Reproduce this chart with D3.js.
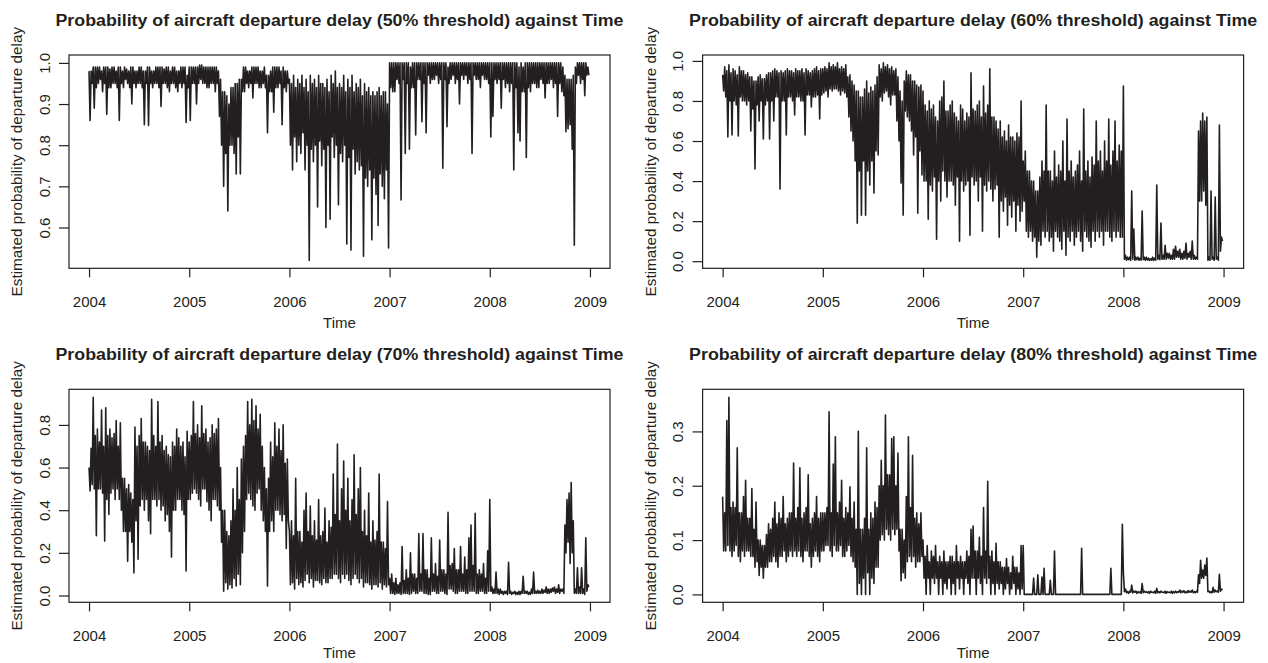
<!DOCTYPE html>
<html>
<head>
<meta charset="utf-8">
<script src="https://cdn.jsdelivr.net/npm/d3@7"></script>
<style>
  body { margin: 0; background: #fff; }
  svg { display: block; font-family: 'Liberation Sans', Arial, Helvetica, sans-serif; }
</style>
</head>
<body>
<div id="chart-container"></div>
<script>
const d3 = window.d3;

const chartWidth = 1268;
const chartHeight = 663;

// Time series: starts 2004, 96 readings per year (one row per quarter)
const startYear = 2004;
const perYear = 96;
const yearTicks = [2004, 2005, 2006, 2007, 2008, 2009];
const thresholds = ['50%', '60%', '70%', '80%'];

const prob50 = [
  .98,.86,.98,.95,.99,.89,.99,.94,.99,.95,.99,.96,.98,.93,.99,.95,.99,.875,.99,.94,.985,.94,.99,.95,
  .99,.95,.98,.94,.99,.86,.99,.95,.98,.94,.99,.96,.985,.95,.98,.94,.99,.90,.99,.95,.98,.94,.98,.95,
  .99,.95,.99,.94,.98,.85,.98,.95,.99,.848,.99,.95,.98,.94,.98,.95,.99,.95,.99,.94,.99,.894,.99,.95,
  .985,.95,.99,.94,.99,.93,.98,.95,.99,.95,.99,.94,.98,.93,.98,.95,.99,.94,.99,.95,.99,.855,.97,.94,
  .99,.86,.99,.95,.99,.95,.99,.90,.99,.95,.995,.96,.995,.95,.99,.95,.99,.94,.99,.94,.99,.95,.99,.95,
  .99,.93,.99,.95,.98,.87,.96,.80,.93,.70,.93,.78,.92,.64,.90,.80,.94,.80,.94,.78,.95,.73,.95,.82,
  .96,.73,.96,.93,.99,.93,.99,.95,.98,.94,.98,.95,.99,.915,.99,.95,.99,.95,.99,.94,.98,.94,.98,.95,
  .99,.94,.97,.83,.97,.93,.98,.93,.99,.88,.99,.94,.99,.94,.99,.95,.98,.85,.99,.94,.98,.93,.98,.95,
  .96,.80,.95,.74,.97,.82,.94,.76,.96,.80,.95,.78,.97,.83,.94,.74,.96,.80,.93,.52,.97,.79,.95,.76,
  .96,.80,.94,.65,.97,.81,.95,.75,.95,.79,.94,.60,.96,.80,.93,.62,.97,.82,.95,.77,.98,.80,.94,.655,
  .95,.78,.94,.76,.97,.80,.93,.56,.96,.77,.94,.545,.97,.79,.93,.73,.95,.76,.94,.74,.96,.75,.92,.53,
  .95,.72,.93,.70,.94,.74,.92,.57,.93,.72,.92,.68,.93,.605,.94,.73,.92,.70,.93,.67,.93,.74,.90,.55,
  1,.94,1,.93,1,.93,1,.96,1,.95,1,.667,1,.96,1,.78,1,.95,1,.79,.99,.94,1,.94,
  1,.825,1,.96,1,.96,1,.857,1,.95,1,.83,1,.97,1,.95,1,.96,1,.96,1,.97,1,.95,
  1,.96,1,.744,1,.96,1,.845,.99,.95,1,.96,1,.97,1,.95,1,.96,1,.90,1,.97,1,.96,
  1,.97,1,.95,1,.96,1,.78,1,.97,1,.96,1,.96,1,.94,1,.97,1,.96,1,.96,1,.95,
  1,.82,1,.87,1,.96,1,.95,1,.96,1,.89,1,.96,1,.94,1,.95,1,.93,1,.95,1,.74,
  1,.94,1,.83,.99,.81,1,.93,.99,.93,1,.77,1,.94,1,.93,1,.95,1,.95,1,.94,1,.94,
  1,.96,1,.95,1,.915,1,.95,1,.95,1,.96,1,.94,1,.95,1,.87,1,.95,1,.93,.99,.92,
  .97,.833,.96,.84,.96,.85,.96,.79,.97,.557,.99,.95,1,.97,1,.95,1,.96,1,.92,1,.97,.99,.97
];

const prob60 = [
  .93,.85,.97,.82,.95,.62,.98,.80,.94,.63,.96,.80,.95,.78,.93,.625,.97,.82,.95,.80,.95,.80,.93,.78,
  .94,.80,.92,.65,.92,.76,.90,.46,.90,.78,.92,.70,.93,.80,.91,.61,.91,.78,.93,.80,.94,.61,.94,.80,
  .95,.70,.96,.82,.95,.82,.94,.36,.95,.80,.94,.80,.95,.63,.96,.82,.95,.82,.95,.80,.94,.73,.96,.82,
  .95,.82,.95,.80,.96,.80,.94,.63,.96,.83,.95,.83,.94,.77,.95,.82,.96,.82,.97,.83,.95,.71,.96,.83,
  .96,.84,.97,.85,.96,.82,.99,.86,.97,.85,.98,.86,.97,.86,.99,.85,.96,.83,.97,.85,.96,.84,.98,.82,
  .92,.72,.93,.65,.90,.60,.88,.50,.85,.19,.85,.45,.82,.23,.82,.50,.86,.23,.90,.45,.84,.38,.87,.50,
  .85,.34,.88,.55,.92,.53,.98,.82,.96,.80,.99,.84,.97,.85,.98,.82,.96,.78,.97,.83,.95,.83,.96,.70,
  .92,.60,.85,.39,.80,.23,.90,.75,.95,.72,.93,.70,.93,.65,.90,.53,.90,.62,.88,.24,.87,.55,.88,.43,
  .85,.40,.78,.40,.75,.21,.80,.38,.76,.35,.78,.42,.72,.11,.70,.40,.80,.30,.82,.45,.90,.40,.75,.32,
  .75,.40,.78,.40,.80,.38,.74,.28,.72,.42,.70,.10,.78,.40,.76,.35,.70,.38,.74,.40,.72,.13,.94,.42,
  .76,.38,.75,.40,.78,.30,.80,.42,.72,.15,.875,.38,.74,.35,.78,.40,.96,.36,.72,.30,.72,.36,.70,.38,
  .66,.12,.70,.30,.62,.25,.65,.32,.60,.18,.68,.28,.62,.22,.62,.30,.60,.15,.64,.28,.62,.20,.80,.25,
  .50,.30,.55,.15,.45,.12,.45,.15,.40,.10,.40,.12,.35,.02,.35,.10,.42,.08,.50,.15,.45,.12,.78,.15,
  .45,.10,.45,.12,.40,.05,.55,.15,.42,.12,.48,.10,.45,.06,.60,.15,.40,.03,.71,.12,.45,.10,.50,.15,
  .42,.08,.45,.12,.48,.15,.55,.10,.40,.05,.76,.15,.45,.12,.50,.10,.42,.07,.52,.15,.48,.10,.70,.15,
  .50,.12,.55,.15,.45,.08,.60,.15,.50,.15,.71,.12,.48,.10,.55,.15,.70,.12,.50,.15,.58,.12,.55,.12,
  .875,.01,.03,.005,.02,.008,.02,.005,.35,.01,.16,.005,.02,.008,.02,.005,.015,.005,.25,.008,.02,.005,.02,.006,
  .015,.004,.012,.005,.02,.004,.015,.005,.38,.01,.03,.008,.19,.01,.03,.01,.08,.01,.04,.015,.04,.01,.03,.01,
  .06,.01,.075,.02,.05,.02,.06,.01,.04,.01,.05,.015,.09,.01,.04,.02,.05,.01,.10,.01,.03,.01,.02,.01,
  .65,.30,.70,.30,.74,.35,.70,.28,.72,.005,.02,.005,.35,.01,.02,.005,.32,.01,.02,.005,.68,.05,.12,.10
];

const prob70 = [
  .60,.49,.69,.52,.93,.50,.75,.28,.78,.50,.72,.50,.87,.48,.70,.255,.88,.45,.75,.38,.78,.48,.74,.50,
  .76,.45,.82,.50,.70,.45,.81,.40,.55,.30,.55,.30,.50,.16,.52,.30,.48,.25,.45,.106,.79,.35,.70,.17,
  .75,.42,.83,.45,.72,.40,.72,.45,.70,.35,.68,.29,.92,.45,.75,.45,.70,.42,.91,.45,.72,.40,.75,.42,
  .68,.35,.70,.38,.66,.30,.65,.18,.72,.40,.70,.40,.78,.45,.74,.45,.70,.40,.72,.38,.65,.115,.77,.45,
  .72,.45,.75,.48,.91,.50,.76,.48,.80,.45,.74,.42,.89,.50,.76,.50,.78,.44,.72,.40,.74,.35,.80,.45,
  .76,.45,.78,.42,.83,.40,.60,.25,.40,.02,.40,.06,.30,.03,.28,.05,.35,.035,.50,.08,.40,.045,.60,.10,
  .45,.05,.64,.20,.70,.30,.75,.45,.91,.48,.80,.45,.92,.42,.82,.40,.89,.48,.78,.50,.85,.40,.70,.35,
  .60,.30,.50,.044,.55,.30,.72,.35,.65,.30,.81,.40,.70,.40,.78,.38,.68,.35,.80,.38,.62,.22,.64,.35,
  .30,.05,.35,.06,.28,.03,.55,.08,.30,.05,.30,.06,.25,.04,.40,.07,.48,.10,.30,.06,.42,.08,.28,.04,
  .35,.07,.26,.07,.45,.06,.28,.05,.30,.08,.41,.06,.25,.06,.35,.08,.32,.08,.57,.10,.38,.10,.71,.08,
  .35,.06,.50,.10,.63,.08,.40,.10,.55,.07,.35,.05,.45,.08,.66,.10,.38,.08,.50,.06,.60,.08,.30,.04,
  .40,.06,.28,.06,.48,.05,.25,.03,.35,.05,.26,.05,.30,.04,.57,.06,.25,.03,.25,.05,.22,.04,.44,.05,
  .08,.01,.10,.01,.06,.005,.08,.01,.05,.01,.06,.005,.23,.01,.07,.01,.12,.01,.08,.005,.20,.01,.10,.02,
  .10,.01,.08,.01,.29,.02,.10,.02,.29,.01,.12,.01,.12,.005,.08,.005,.27,.02,.10,.02,.15,.01,.09,.01,
  .26,.02,.12,.02,.12,.01,.10,.005,.39,.03,.14,.03,.15,.02,.22,.01,.12,.01,.12,.02,.23,.02,.10,.02,
  .18,.01,.12,.01,.27,.02,.33,.02,.14,.02,.385,.01,.10,.01,.12,.02,.10,.02,.15,.01,.08,.01,.21,.02,
  .45,.02,.04,.01,.03,.01,.11,.01,.03,.005,.03,.01,.02,.005,.02,.01,.02,.005,.156,.01,.02,.005,.015,.01,
  .02,.005,.015,.005,.02,.005,.02,.01,.09,.01,.02,.01,.02,.005,.015,.005,.03,.01,.11,.01,.02,.01,.025,.01,
  .02,.01,.03,.01,.025,.015,.04,.01,.03,.01,.03,.015,.035,.02,.04,.01,.03,.015,.05,.01,.03,.02,.03,.01,
  .33,.20,.45,.25,.48,.15,.53,.20,.35,.01,.03,.01,.13,.01,.04,.01,.13,.01,.03,.005,.27,.02,.05,.04
];

const prob80 = [
  .18,.08,.15,.08,.32,.09,.363,.08,.16,.07,.17,.08,.16,.09,.27,.07,.15,.06,.15,.08,.18,.07,.21,.08,
  .14,.08,.14,.07,.195,.07,.12,.05,.17,.06,.10,.035,.10,.05,.09,.03,.09,.05,.11,.05,.13,.06,.12,.06,
  .14,.07,.17,.06,.13,.05,.15,.07,.14,.07,.18,.08,.13,.06,.14,.07,.15,.08,.15,.07,.242,.08,.14,.07,
  .16,.08,.233,.07,.14,.06,.15,.08,.16,.08,.22,.07,.13,.05,.14,.07,.15,.08,.18,.07,.14,.06,.15,.08,
  .15,.08,.15,.09,.16,.09,.336,.08,.15,.07,.24,.09,.29,.08,.15,.08,.17,.09,.21,.07,.14,.07,.16,.08,
  .15,.09,.198,.07,.14,.06,.17,.05,.12,0,.30,.02,.12,0,.12,.03,.14,0,.27,.04,.12,0,.15,.03,
  .14,.02,.17,.05,.16,.05,.20,.10,.247,.11,.20,.10,.33,.12,.22,.11,.22,.10,.287,.12,.29,.11,.20,.12,
  .26,.08,.12,.025,.12,.04,.10,.03,.18,.06,.29,.07,.16,.06,.256,.07,.14,.05,.15,.06,.13,.06,.15,.07,
  .10,.03,.07,0,.09,.03,.06,0,.08,.03,.07,.02,.09,.03,.06,0,.07,.03,.06,0,.08,.02,.06,.01,
  .06,.03,.07,0,.07,.02,.06,0,.09,.03,.06,.01,.07,.03,.06,0,.06,.03,.08,.02,.07,0,.12,.03,
  .126,.03,.08,0,.08,.03,.105,.02,.07,0,.16,.03,.08,.02,.208,.03,.07,0,.08,.02,.06,0,.094,.02,
  .06,.01,.06,.02,.05,0,.05,.01,.066,.02,.05,0,.04,.01,.07,.02,.05,0,.05,.01,.04,0,.09,.01,
  .09,0,0,0,0,0,0,0,0,0,.03,0,0,0,.036,0,0,0,.032,0,.048,0,0,0,
  0,0,.026,0,0,0,.08,0,0,0,0,0,0,0,0,0,0,0,0,0,0,0,0,0,
  0,0,0,0,0,0,0,0,.085,0,0,0,0,0,0,0,0,0,0,0,0,0,0,0,
  0,0,0,0,0,0,0,0,0,0,0,0,.048,0,0,0,0,0,0,0,0,0,0,.129,
  .04,.005,.01,.003,.005,.002,.006,.004,.017,.003,.006,.004,.006,.002,.005,.003,.005,.002,.02,.003,.006,.004,.005,.003,
  .005,.002,.006,.004,.004,.003,.006,.002,.011,.003,.005,.003,.006,.004,.004,.003,.006,.002,.005,.004,.004,.003,.006,.002,
  .005,.003,.006,.003,.005,.004,.008,.003,.006,.004,.007,.003,.005,.003,.007,.004,.006,.004,.008,.003,.005,.003,.006,.004,
  .036,.02,.063,.03,.045,.03,.054,.035,.067,.005,.006,.003,.005,.003,.013,.004,.008,.005,.006,.004,.037,.006,.01,.008
];

const yTicks50 = [0.6, 0.7, 0.8, 0.9, 1.0];
const yTicks60 = [0.0, 0.2, 0.4, 0.6, 0.8, 1.0];
const yTicks70 = [0.0, 0.2, 0.4, 0.6, 0.8];
const yTicks80 = [0.0, 0.1, 0.2, 0.3];

const seriesList = [prob50, prob60, prob70, prob80];
const yTickList = [yTicks50, yTicks60, yTicks70, yTicks80];

// plot boxes (2 x 2 layout)
const boxes = [
  { x: 69, y: 55, w: 541, h: 213.3 },
  { x: 702.6, y: 55, w: 541, h: 213.3 },
  { x: 69, y: 389.3, w: 541, h: 213 },
  { x: 702.6, y: 389.3, w: 541, h: 213 }
];

const ink = '#231f20';

const svg = d3
  .select('#chart-container')
  .append('svg')
  .attr('width', chartWidth)
  .attr('height', chartHeight);

svg.append('rect')
  .attr('width', chartWidth)
  .attr('height', chartHeight)
  .attr('fill', '#fff');

const drawPanel = (values, ticks, threshold, box) => {
  const g = svg.append('g');

  // R style: 4% padding on both axes
  const xScale = d3.scaleLinear()
    .domain([yearTicks[0] - 0.04 * 5, yearTicks[5] + 0.04 * 5])
    .range([box.x, box.x + box.w]);
  const [lo, hi] = d3.extent(values);
  const pad = (hi - lo) * 0.04;
  const yScale = d3.scaleLinear()
    .domain([lo - pad, hi + pad])
    .range([box.y + box.h, box.y]);

  // series
  const line = d3.line()
    .x((d, i) => xScale(startYear + i / perYear))
    .y((d) => yScale(d));

  g.append('path')
    .datum(values)
    .attr('d', line)
    .attr('fill', 'none')
    .attr('stroke', ink)
    .attr('stroke-width', 1.6)
    .attr('stroke-linejoin', 'round');

  // box
  g.append('rect')
    .attr('x', box.x)
    .attr('y', box.y)
    .attr('width', box.w)
    .attr('height', box.h)
    .attr('fill', 'none')
    .attr('stroke', ink)
    .attr('stroke-width', 1.2);

  // x axis
  const xAxis = d3.axisBottom(xScale)
    .tickValues(yearTicks)
    .tickFormat(d3.format('d'))
    .tickSize(9);
  const gx = g.append('g')
    .attr('transform', `translate(0,${box.y + box.h})`)
    .call(xAxis);
  gx.select('.domain').remove();
  gx.selectAll('line').attr('stroke', ink).attr('stroke-width', 1.2);
  gx.selectAll('text')
    .attr('y', 39)
    .attr('dy', null)
    .attr('fill', ink)
    .style('font-size', '15px')
    .style('font-family', "'Liberation Sans', Arial, sans-serif");

  // y axis
  const yAxis = d3.axisLeft(yScale)
    .tickValues(ticks)
    .tickFormat(d3.format('.1f'))
    .tickSize(10);
  const gy = g.append('g')
    .attr('transform', `translate(${box.x},0)`)
    .call(yAxis);
  gy.select('.domain').remove();
  gy.selectAll('line').attr('stroke', ink).attr('stroke-width', 1.2);
  gy.selectAll('text')
    .attr('x', null)
    .attr('dy', null)
    .attr('text-anchor', 'middle')
    .attr('transform', 'translate(-19.5,0) rotate(-90)')
    .attr('fill', ink)
    .style('font-size', '15px')
    .style('font-family', "'Liberation Sans', Arial, sans-serif");

  // titles
  const cx = box.x + box.w / 2;
  g.append('text')
    .attr('x', cx)
    .attr('y', box.y - 29)
    .attr('text-anchor', 'middle')
    .attr('font-weight', 'bold')
    .attr('font-size', 16)
    .attr('fill', ink)
    .attr('textLength', 568)
    .attr('lengthAdjust', 'spacingAndGlyphs')
    .text(`Probability of aircraft departure delay (${threshold} threshold) against Time`);

  g.append('text')
    .attr('x', cx)
    .attr('y', Math.min(box.y + box.h + 60, chartHeight - 5))
    .attr('text-anchor', 'middle')
    .attr('font-size', 15)
    .attr('fill', ink)
    .text('Time');

  g.append('text')
    .attr('transform', `translate(${box.x - 47},${box.y + box.h / 2}) rotate(-90)`)
    .attr('text-anchor', 'middle')
    .attr('font-size', 15.3)
    .attr('fill', ink)
    .text('Estimated probability of departure delay');
};

seriesList.forEach((values, i) => {
  drawPanel(values, yTickList[i], thresholds[i], boxes[i]);
});
</script>
</body>
</html>
